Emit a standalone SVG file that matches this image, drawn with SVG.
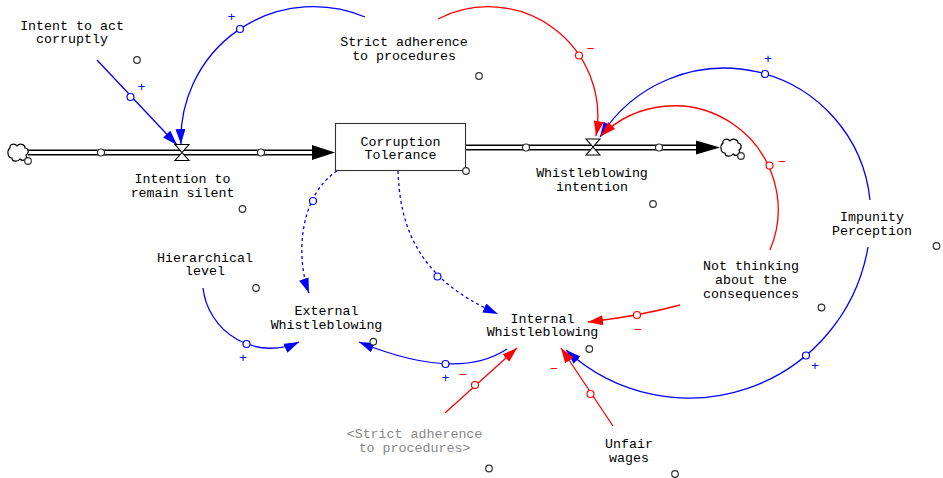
<svg xmlns="http://www.w3.org/2000/svg" xmlns:xlink="http://www.w3.org/1999/xlink" width="943" height="478" viewBox="0 0 943 478">
<style>
text{font-family:"Liberation Mono","DejaVu Sans Mono",monospace;font-size:13.3px;fill:#000;text-anchor:middle}
.gray{fill:#888}
.sp{fill:#0000ff}
.sm{fill:#ff0000}
.lb{fill:none;stroke:#0000ff;stroke-width:1.3}
.lr{fill:none;stroke:#ff0000;stroke-width:1.3}
.dot{stroke-dasharray:3,3}
.hb{fill:#fff;stroke:#0000ff;stroke-width:1.2}
.hr{fill:#fff;stroke:#ff0000;stroke-width:1.2}
.hk{fill:#fff;stroke:#333;stroke-width:1.2}
.po{fill:none;stroke:#000;stroke-width:6}
.pi{fill:none;stroke:#fff;stroke-width:3}
</style>
<defs>
<marker id="ab" markerUnits="userSpaceOnUse" viewBox="0 0 15 10" refX="15" refY="5" markerWidth="15" markerHeight="10" orient="auto"><path d="M0,0 L15,5 L0,10 Z" fill="#0000ff"/></marker>
<marker id="ar" markerUnits="userSpaceOnUse" viewBox="0 0 15 10" refX="15" refY="5" markerWidth="15" markerHeight="10" orient="auto"><path d="M0,0 L15,5 L0,10 Z" fill="#ff0000"/></marker>
<path id="cloud" d="M-8,-5 C-9,-9 -3,-10 -1,-7 C1,-10 7,-9 7,-5 C11,-5 11,1 8,2 C10,6 5,9 2,6 C0,9 -6,9 -6,5 C-11,5 -11,-3 -8,-5 Z" fill="#fff" stroke="#000" stroke-width="1.2"/>
<path id="valve" d="M-7,-8 L7,-8 L0,0 L7,8 L-7,8 L0,0 Z" fill="#fff" stroke="#000" stroke-width="1.1"/>
</defs>

<g id="flows">
<g id="flow-silent">
<path class="po" d="M28,152.5 L314,152.5"/>
<path class="pi" d="M27,152.5 L315,152.5"/>
<path d="M312,145 L335,152.5 L312,160 Z" fill="#000"/>
<circle class="hk" cx="101" cy="152.5" r="3.5"/>
<circle class="hk" cx="261" cy="152.5" r="3.5"/>
</g>
<g id="flow-whistle">
<path class="po" d="M465,147.5 L698,147.5"/>
<path class="pi" d="M465,147.5 L699,147.5"/>
<path d="M696,140.5 L720,147.5 L696,154.5 Z" fill="#000"/>
<circle class="hk" cx="526" cy="147.5" r="3.5"/>
<circle class="hk" cx="659" cy="147.5" r="3.5"/>
</g>
</g>

<g id="cloud-left"><use xlink:href="#cloud" x="18" y="153"/><circle class="hk" cx="28" cy="161" r="3.3"/></g>
<g id="cloud-right"><use xlink:href="#cloud" x="731" y="148"/><circle class="hk" cx="741" cy="156" r="3.3"/></g>

<g id="connectors">
<path class="lb" marker-end="url(#ab)" d="M365,17 A132.7,132.7 0 0 0 181,144"/>
<path class="lb" marker-end="url(#ab)" d="M97,60 L177,145"/>
<path class="lr" marker-end="url(#ar)" d="M438,19 A109.4,109.4 0 0 1 596,136"/>
<path class="lb" marker-end="url(#ab)" d="M870,200 A146.5,146.5 0 0 0 600,137"/>
<path class="lr" marker-end="url(#ar)" d="M770,250 A103.9,103.9 0 0 0 601,136"/>
<path class="lb" marker-end="url(#ab)" d="M868,247 A181.5,181.5 0 0 1 566,350"/>
<path class="lb" marker-end="url(#ab)" d="M203,288 A68,68 0 0 0 299,342"/>
<path class="lb" marker-end="url(#ab)" d="M507,349 Q457,382 359,342"/>
<path class="lr" marker-end="url(#ar)" d="M680,305 Q640,316 588,322"/>
<path class="lr" marker-end="url(#ar)" d="M445,413 L517,348"/>
<path class="lr" marker-end="url(#ar)" d="M613,426 L561,348"/>
<path class="lb dot" marker-end="url(#ab)" d="M337,171 C300,195 295,255 309,293"/>
<path class="lb dot" marker-end="url(#ab)" d="M398,171 C400,230 420,280 498,314"/>
<circle class="hb" cx="240" cy="29" r="3.5"/>
<circle class="hb" cx="130.5" cy="97" r="3.5"/>
<circle class="hr" cx="579" cy="55.5" r="3.5"/>
<circle class="hb" cx="765" cy="74" r="3.5"/>
<circle class="hr" cx="769.5" cy="165.5" r="3.5"/>
<circle class="hb" cx="313" cy="201" r="3.5"/>
<circle class="hb" cx="437.5" cy="276.5" r="3.5"/>
<circle class="hb" cx="246.5" cy="344" r="3.5"/>
<circle class="hb" cx="445.5" cy="364" r="3.5"/>
<circle class="hr" cx="475" cy="385" r="3.5"/>
<circle class="hr" cx="590.5" cy="394" r="3.5"/>
<circle class="hr" cx="637" cy="315" r="3.5"/>
<circle class="hb" cx="806" cy="355.5" r="3.5"/>
<text class="sp" x="231.5" y="20.5">+</text>
<text class="sp" x="141.5" y="91">+</text>
<text class="sm" x="590.5" y="53">−</text>
<text class="sp" x="768" y="63">+</text>
<text class="sm" x="782" y="166">−</text>
<text class="sp" x="243" y="362">+</text>
<text class="sp" x="445.5" y="381.5">+</text>
<text class="sm" x="463" y="379">−</text>
<text class="sm" x="554" y="373">−</text>
<text class="sm" x="638" y="334">−</text>
<text class="sp" x="815" y="370">+</text>
</g>

<g id="valve-silent"><use xlink:href="#valve" x="182" y="152.5"/><text x="182.5" y="183">Intention to</text><text x="182.5" y="196.7">remain silent</text><circle class="hk" cx="242.5" cy="209" r="3.3"/></g>
<g id="valve-whistle"><use xlink:href="#valve" x="593" y="147"/><text x="592" y="177">Whistleblowing</text><text x="592" y="191">intention</text><circle class="hk" cx="653" cy="204" r="3.3"/></g>

<g id="stock-corruption">
<rect x="335.5" y="123.5" width="130" height="47" fill="#fff" stroke="#333" stroke-width="1.1"/>
<text x="400.5" y="145.5">Corruption</text>
<text x="400.5" y="159.3">Tolerance</text>
<circle class="hk" cx="466" cy="171" r="3.3"/>
</g>

<g id="intent"><text x="72" y="29.5">Intent to act</text><text x="72" y="43">corruptly</text><circle class="hk" cx="137" cy="60" r="3.3"/></g>
<g id="strict"><text x="404" y="45.7">Strict adherence</text><text x="404" y="59.7">to procedures</text><circle class="hk" cx="479" cy="76" r="3.3"/></g>
<g id="impunity"><text x="872" y="221">Impunity</text><text x="872" y="234.5">Perception</text><circle class="hk" cx="936.5" cy="246" r="3.3"/></g>
<g id="notthinking"><text x="751" y="270">Not thinking</text><text x="751" y="284">about the</text><text x="751" y="298">consequences</text><circle class="hk" cx="821.5" cy="307.5" r="3.3"/></g>
<g id="hierarchical"><text x="205" y="261.7">Hierarchical</text><text x="205" y="275.3">level</text><circle class="hk" cx="256" cy="288" r="3.3"/></g>
<g id="external"><text x="326.5" y="315">External</text><text x="326.5" y="329">Whistleblowing</text><circle class="hk" cx="373.3" cy="341.7" r="3.3"/></g>
<g id="internal"><text x="542.5" y="322.7">Internal</text><text x="542.5" y="336.3">Whistleblowing</text><circle class="hk" cx="589.3" cy="349" r="3.3"/></g>
<g id="strict-shadow"><text class="gray" x="414.5" y="438.3">&lt;Strict adherence</text><text class="gray" x="414.5" y="451.7">to procedures&gt;</text><circle class="hk" cx="489" cy="468.5" r="3.3"/></g>
<g id="unfair"><text x="629" y="447.7">Unfair</text><text x="629" y="461.7">wages</text><circle class="hk" cx="675" cy="474" r="3.3"/></g>
</svg>
